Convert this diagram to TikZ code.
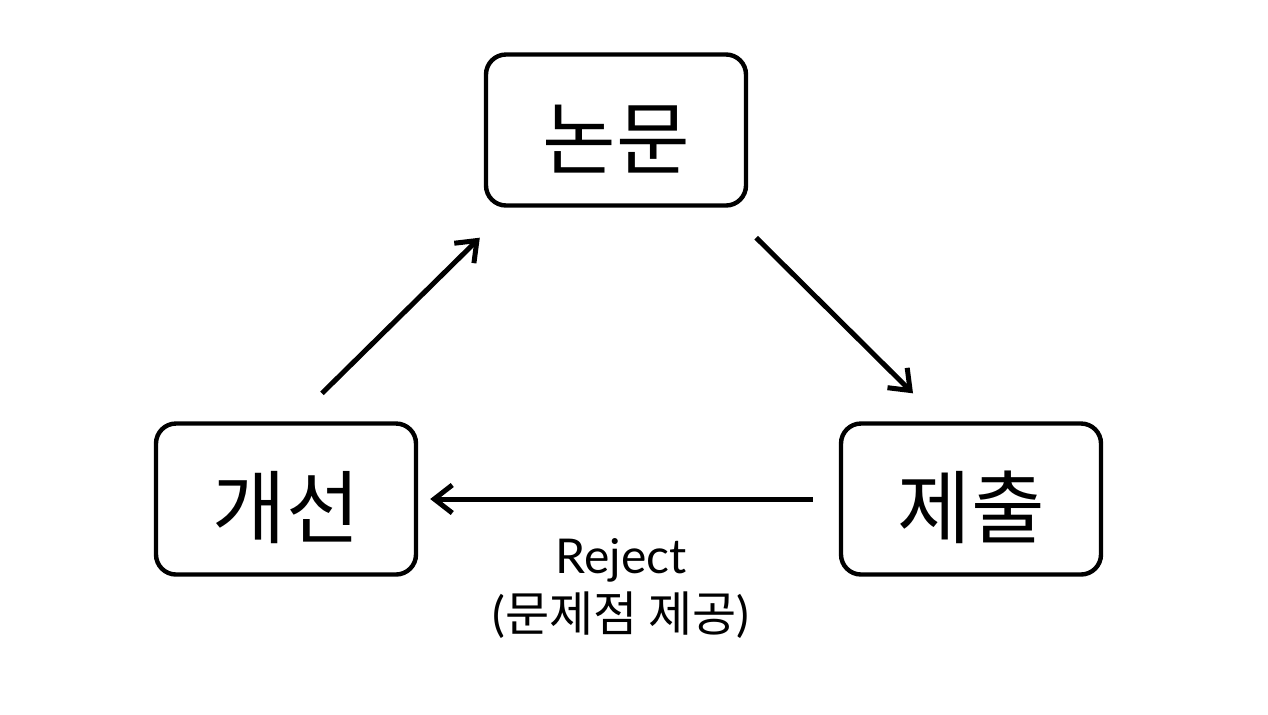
\documentclass[tikz,border=0pt]{standalone}
\usepackage{fontspec}
\setmainfont{Lato}
\newfontfamily\kr{Noto Sans CJK KR}
\usetikzlibrary{arrows.meta}

\begin{document}
\begin{tikzpicture}[x=0.5pt,y=-0.5pt,
  box/.style={draw,line width=2.2pt,rounded corners=10pt,minimum width=130pt,minimum height=75.5pt,text height=40pt,text depth=2pt,font=\kr\fontsize{40}{42}\selectfont},
  flow/.style={line width=2.5pt,-{Straight Barb[length=9pt,width=14pt]}}]
\useasboundingbox (0,0) rectangle (1268,714);
\node[box] (paper) at (616,130) {논문};
\node[box] (revise) at (286,499) {개선};
\node[box] (submit) at (971,499) {제출};
\node[align=center,font=\fontsize{24}{29}\selectfont] (reason) at (621,588) {Reject\\({\kr 문제점 제공})};
\draw[flow] ([shift={(36,-28)}]revise.north) -- ([shift={(-4,30)}]paper.south west);
\draw[flow] ([shift={(8,30)}]paper.south east) -- ([shift={(-58,-28)}]submit.north);
\draw[flow] ([shift={(-26,0)}]submit.west) -- ([shift={(12,0)}]revise.east);
\end{tikzpicture}
\end{document}
